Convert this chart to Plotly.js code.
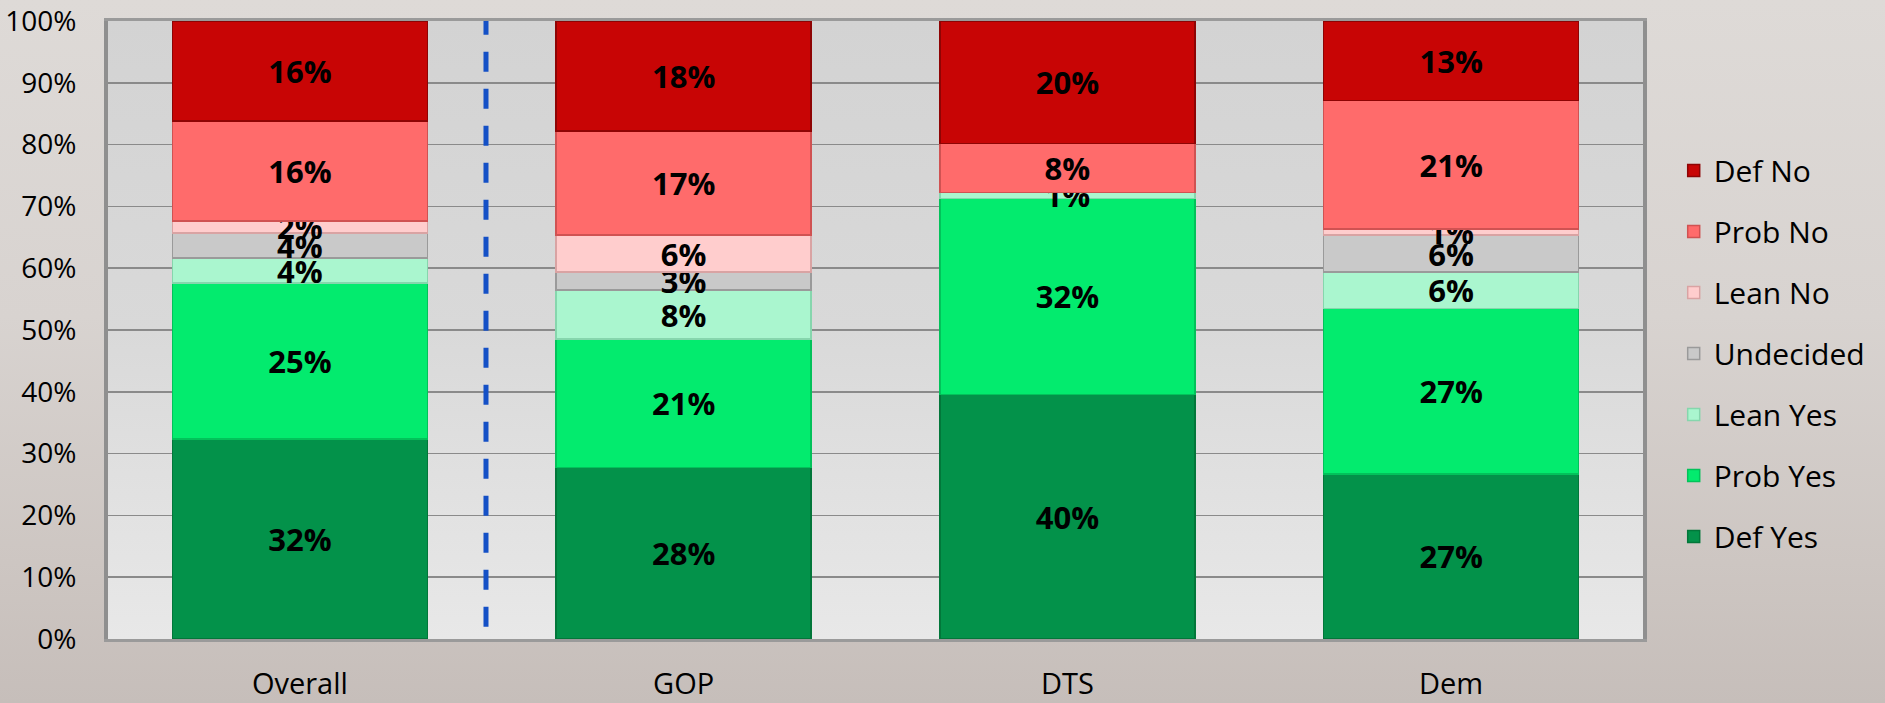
<!DOCTYPE html>
<html>
<head>
<meta charset="utf-8">
<script src="https://cdn.plot.ly/plotly-3.0.1.min.js"></script>
<style>
html, body { margin: 0; padding: 0; }
body { width: 1885px; height: 703px; overflow: hidden;
  background: linear-gradient(to bottom, #dedad7 0%, #d8d3d0 45%, #cdc6c2 80%, #c6beba 100%); }
#chart { width: 1885px; height: 703px; }
</style>
</head>
<body>
<div id="chart"></div>
<script>
// ---- data ----
const categories = ["Overall", "GOP", "DTS", "Dem"];
const seriesNames = ["Def Yes", "Prob Yes", "Lean Yes", "Undecided", "Lean No", "Prob No", "Def No"];
const defYes    = [32, 28, 40, 27];
const probYes   = [25, 21, 32, 27];
const leanYes   = [4, 8, 1, 6];
const undecided = [4, 3, null, 6];
const leanNo    = [2, 6, null, 1];
const probNo    = [16, 17, 8, 21];
const defNo     = [16, 18, 20, 13];
const yTickVals = [0, 10, 20, 30, 40, 50, 60, 70, 80, 90, 100];
const yTickText = yTickVals.map(v => v + "%");

// ---- style ----
const seriesValues = [defYes, probYes, leanYes, undecided, leanNo, probNo, defNo];
const fillColors = ["#03924a", "#03eb6e", "#aaf6cf", "#c9c9c9", "#ffcdcd", "#ff6b6b", "#c80505"];
const lineColors = ["#02773a", "#02c25a", "#86d6ad", "#9a9a9a", "#d9a3a3", "#d05252", "#8e0404"];
const dividerPos = 0.485;

const traces = seriesNames.map((name, i) => ({
  type: "bar",
  name: name,
  x: categories,
  y: seriesValues[i],
  text: seriesValues[i].map(v => v == null ? "" : v + "%"),
  textposition: "inside",
  insidetextanchor: "middle",
  constraintext: "none",
  textangle: 0,
  textfont: { family: "Open Sans, sans-serif", size: 31, color: "#000", weight: "bold" },
  marker: { color: fillColors[i], line: { color: lineColors[i], width: 1.5 } },
  legendgroup: name,
  legendrank: seriesNames.length - i,
  hoverinfo: "skip"
}));

const wallSvg = '<svg xmlns="http://www.w3.org/2000/svg" width="100" height="100" preserveAspectRatio="none">' +
  '<defs><linearGradient id="g" x1="0" y1="0" x2="0" y2="1">' +
  '<stop offset="0" stop-color="#d3d3d3"/><stop offset="0.5" stop-color="#d9d9d9"/><stop offset="1" stop-color="#e8e8e8"/>' +
  '</linearGradient></defs><rect width="100" height="100" fill="url(#g)"/></svg>';

const layout = {
  width: 1885,
  height: 703,
  margin: { l: 108, r: 242, t: 21, b: 64 },
  paper_bgcolor: "rgba(0,0,0,0)",
  plot_bgcolor: "rgba(0,0,0,0)",
  barmode: "stack",
  barnorm: "percent",
  bargap: 0.336,
  font: { family: "Open Sans, sans-serif", color: "#000" },
  showlegend: true,
  legend: {
    x: 1.02, y: 0.80, xanchor: "left", yanchor: "top",
    traceorder: "grouped",
    tracegroupgap: 19,
    font: { size: 30, color: "#000" },
    bgcolor: "rgba(0,0,0,0)"
  },
  xaxis: {
    type: "category",
    tickfont: { size: 29, color: "#000" },
    ticklabelstandoff: 17,
    showline: true, linecolor: "#9a9a9a", linewidth: 3, mirror: true,
    showgrid: false, zeroline: false, fixedrange: true
  },
  yaxis: {
    range: [0, 100],
    tickvals: yTickVals,
    ticktext: yTickText,
    tickfont: { size: 28, color: "#000" },
    ticklabelstandoff: 22,
    showgrid: true, gridcolor: "#8a8a8a", gridwidth: 1.5,
    showline: true, linecolor: "#8f8f8f", linewidth: 4, mirror: true,
    zeroline: false, fixedrange: true
  },
  images: [{
    source: "data:image/svg+xml;charset=utf-8," + encodeURIComponent(wallSvg),
    xref: "paper", yref: "paper", x: 0, y: 1, sizex: 1, sizey: 1,
    sizing: "stretch", layer: "below", xanchor: "left", yanchor: "top"
  }],
  shapes: [{
    type: "line", xref: "x", yref: "paper",
    x0: dividerPos, x1: dividerPos, y0: 0.02, y1: 1,
    line: { color: "#1450c6", width: 5, dash: "20px,17px" }
  }]
};

Plotly.newPlot("chart", traces, layout, { displayModeBar: false, staticPlot: true });
</script>
</body>
</html>
